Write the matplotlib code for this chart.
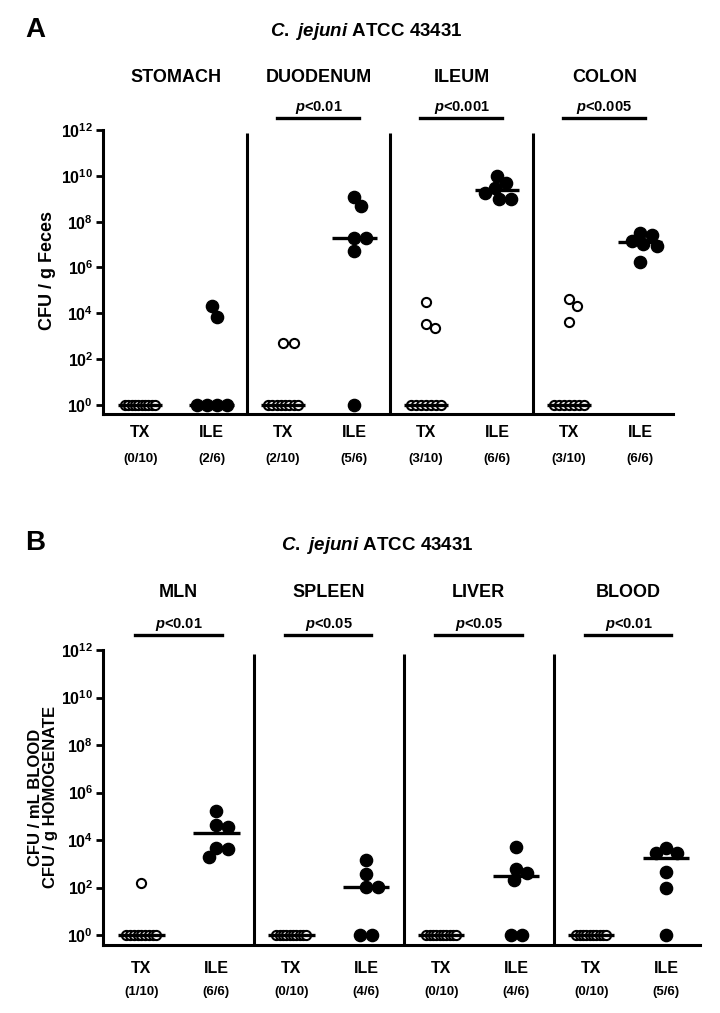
import numpy as np
import matplotlib
matplotlib.use("Agg")
import matplotlib.pyplot as plt
from matplotlib.ticker import NullLocator
from matplotlib.transforms import blended_transform_factory

plt.rcParams["font.family"] = ["Liberation Sans", "DejaVu Sans"]
plt.rcParams["font.weight"] = "bold"
plt.rcParams["mathtext.fontset"] = "custom"
plt.rcParams["mathtext.rm"] = "Liberation Sans:bold"
plt.rcParams["mathtext.bf"] = "Liberation Sans:bold"
plt.rcParams["mathtext.it"] = "Liberation Sans:bold:italic"
plt.rcParams["mathtext.default"] = "bf"

# ---- data (CFU, 1 = below detection) ----
groups = ["TX", "ILE"]

organs_a = ["STOMACH", "DUODENUM", "ILEUM", "COLON"]
pvals_a = ["", "0.01", "0.001", "0.005"]
counts_a = ["(0/10)", "(2/6)", "(2/10)", "(5/6)", "(3/10)", "(6/6)", "(3/10)", "(6/6)"]
stomach_tx = [1] * 10
stomach_ile = [2.0e4, 7.0e3, 1, 1, 1, 1]
duodenum_tx = [5.3e2, 5.0e2] + [1] * 8
duodenum_ile = [1.2e9, 4.6e8, 2.0e7, 2.0e7, 5.0e6, 1]
ileum_tx = [3.0e4, 3.5e3, 2.2e3] + [1] * 7
ileum_ile = [1.0e10, 4.8e9, 3.0e9, 1.7e9, 1.0e9, 1.0e9]
colon_tx = [2.1e4, 4.2e4, 4.1e3] + [1] * 7
colon_ile = [2.6e7, 3.3e7, 1.05e7, 9.1e6, 1.5e7, 1.7e6]

organs_b = ["MLN", "SPLEEN", "LIVER", "BLOOD"]
pvals_b = ["0.01", "0.05", "0.05", "0.01"]
counts_b = ["(1/10)", "(6/6)", "(0/10)", "(4/6)", "(0/10)", "(4/6)", "(0/10)", "(5/6)"]
mln_tx = [1.5e2] + [1] * 9
mln_ile = [1.6e5, 4.2e4, 3.4e4, 4.7e3, 4.0e3, 2.0e3]
spleen_tx = [1] * 10
spleen_ile = [1.4e3, 3.7e2, 1.1e2, 1.1e2, 1, 1]
liver_tx = [1] * 10
liver_ile = [5.1e3, 6.3e2, 3.9e2, 2.1e2, 1, 1]
blood_tx = [1] * 10
blood_ile = [2.9e3, 2.9e3, 4.7e3, 4.7e2, 9.5e1, 1]

W, H = 720, 1013
fig = plt.figure(figsize=(W / 100, H / 100), dpi=100)


def fx(px):
    return px / W


def fy(py):
    return 1 - py / H


def swarm_x(ax, xc, vals, diam):
    # simple beeswarm in pixel space; detection-limit values sit in one row
    vals = np.asarray(vals, float)
    disp = ax.transData.transform(np.column_stack([np.full(len(vals), xc), vals]))
    offs = np.zeros(len(vals))
    base = vals <= 1
    nb = base.sum()
    if nb > 1:
        step = min(diam, 30.0 / (nb - 1))
        offs[base] = (np.arange(nb) - (nb - 1) / 2) * step
    placed = []
    for i in np.argsort(-vals, kind="stable"):
        if base[i]:
            continue
        y = disp[i, 1]
        k = 0
        while True:
            off = ((k + 1) // 2) * 0.5 * (1 if k % 2 else -1)
            if all((off - px) ** 2 + (y - py) ** 2 >= diam ** 2 for px, py in placed):
                break
            k += 1
        offs[i] = off
        placed.append((off, y))
    pts = np.column_stack([disp[:, 0] + offs, disp[:, 1]])
    return ax.transData.inverted().transform(pts)[:, 0]


def draw_panel(ax, series, organs, pvals, counts, ylow, y):
    ax.set_yscale("log")
    ax.set_ylim(ylow, 1e12)
    for s in ["top", "right"]:
        ax.spines[s].set_visible(False)
    for s in ["left", "bottom"]:
        ax.spines[s].set_linewidth(2.2)
    ax.set_yticks([10.0 ** k for k in range(0, 13, 2)])
    ax.set_yticklabels([f"$10^{{{k}}}$" for k in range(0, 13, 2)], fontsize=11.5)
    ax.yaxis.set_minor_locator(NullLocator())
    ax.tick_params(axis="y", length=5, width=2, pad=2)
    ax.set_xticks([])
    ax.vlines([1.5, 3.5, 5.5], ylow, 10 ** 11.85, color="black", lw=2.2, zorder=2)

    tr = blended_transform_factory(ax.transData, fig.transFigure)
    for i, vals in enumerate(series):
        open_pt = i % 2 == 0
        xs = swarm_x(ax, i, vals, 10.5 if open_pt else 11.5)
        if open_pt:
            ax.plot(xs, vals, "o", ms=6.6, mfc="white", mec="black", mew=1.5,
                    ls="none", zorder=3, clip_on=False)
        else:
            ax.plot(xs, vals, "o", ms=8.8, color="black", ls="none",
                    zorder=3, clip_on=False)
        ax.hlines(np.median(vals), i - 0.31, i + 0.31, color="black", lw=2.4, zorder=4)
        ax.text(i, fy(y["tick"]), groups[i % 2], transform=tr, ha="center",
                va="baseline", fontsize=11.5)
        ax.text(i, fy(y["count"]), counts[i], transform=tr, ha="center",
                va="baseline", fontsize=9.5)

    for j, organ in enumerate(organs):
        xm = 2 * j + 0.5
        ax.text(xm, fy(y["organ"]), organ, transform=tr, ha="center",
                va="baseline", fontsize=13)
        if pvals[j]:
            ax.plot([2 * j - 0.08, 2 * j + 1 + 0.07], [fy(y["line"])] * 2,
                    transform=tr, color="black", lw=2.4, clip_on=False)
            ax.text(xm, fy(y["p"]), "$\\mathit{p}$<" + pvals[j], transform=tr,
                    ha="center", va="baseline", fontsize=10.5)


# ---- panel A ----
ax_a = fig.add_axes([fx(103), fy(414), fx(673) - fx(103), fy(130) - fy(414)])
ax_a.set_xlim(-0.52, 7.46)
series_a = [stomach_tx, stomach_ile, duodenum_tx, duodenum_ile,
            ileum_tx, ileum_ile, colon_tx, colon_ile]
draw_panel(ax_a, series_a, organs_a, pvals_a, counts_a, 10 ** -0.393,
           {"tick": 437, "count": 462, "organ": 81.5, "p": 111.5, "line": 117.7})
fig.text(fx(25), fy(37), "A", fontsize=20, ha="left", va="baseline")
fig.text(fx(366), fy(36), "$\\mathit{C.\\ jejuni}$ ATCC 43431", fontsize=13.5,
         ha="center", va="baseline")
fig.text(fx(48), fy(270), "CFU / g Feces", rotation=90, ha="center",
         va="center", fontsize=13)

# ---- panel B ----
ax_b = fig.add_axes([fx(103), fy(945), fx(700) - fx(103), fy(650) - fy(945)])
ax_b.set_xlim(-0.51, 7.45)
series_b = [mln_tx, mln_ile, spleen_tx, spleen_ile,
            liver_tx, liver_ile, blood_tx, blood_ile]
draw_panel(ax_b, series_b, organs_b, pvals_b, counts_b, 10 ** -0.42,
           {"tick": 973, "count": 995, "organ": 596.5, "p": 627.5, "line": 635})
fig.text(fx(25), fy(550), "B", fontsize=20, ha="left", va="baseline")
fig.text(fx(377), fy(550), "$\\mathit{C.\\ jejuni}$ ATCC 43431", fontsize=13.5,
         ha="center", va="baseline")
fig.text(fx(43), fy(797), "CFU / mL BLOOD\nCFU / g HOMOGENATE", rotation=90,
         ha="center", va="center", fontsize=12, linespacing=1.05,
         multialignment="center")

fig.savefig("out.png", dpi=100)
